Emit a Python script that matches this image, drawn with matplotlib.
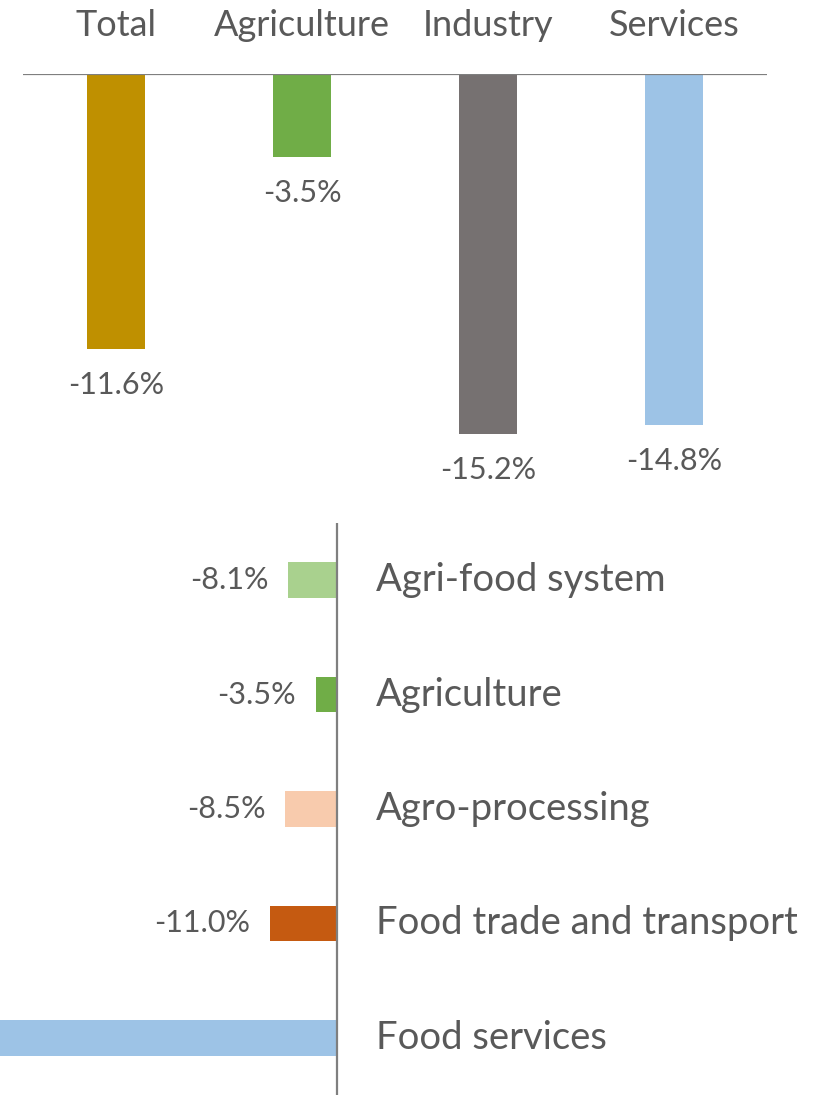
import matplotlib
matplotlib.use("Agg")
import matplotlib.pyplot as plt

# sector GDP change (top) and agri-food system breakdown (bottom), in %
sectors = ["Total", "Agriculture", "Industry", "Services"]
sector_change = [-11.6, -3.5, -15.2, -14.8]
sector_colors = ["#BF9000", "#70AD47", "#767171", "#9DC3E6"]

afs_parts = ["Agri-food system", "Agriculture", "Agro-processing",
             "Food trade and transport", "Food services"]
afs_change = [-8.1, -3.5, -8.5, -11.0, -60.0]
afs_colors = ["#A9D18E", "#70AD47", "#F8CBAD", "#C55A11", "#9DC3E6"]

plt.rcParams["font.family"] = ["Lato", "DejaVu Sans"]
text_color = "#595959"
line_color = "#7F7F7F"

W, H = 821, 1095
fig = plt.figure(figsize=(W / 100, H / 100), dpi=100)

# --- top: vertical bars hanging from the zero line
ax1 = fig.add_axes([23 / W, 1 - 500 / H, 744 / W, 426 / H])
ax1.bar(range(len(sectors)), sector_change, width=0.31, color=sector_colors)
ax1.axhline(0, color=line_color, lw=1.6)
ax1.set_xlim(-0.5, 3.5)
ax1.set_ylim(-426 / 23.7, 0)
ax1.axis("off")
for i, (name, v) in enumerate(zip(sectors, sector_change)):
    ax1.annotate(name, (i, 0), xytext=(0, 27), textcoords="offset points",
                 ha="center", va="baseline", fontsize=26, color=text_color,
                 annotation_clip=False)
    ax1.annotate(f"{v:.1f}%", (i, v), xytext=(0, -26), textcoords="offset points",
                 ha="center", va="center", fontsize=22, color=text_color,
                 annotation_clip=False)

# --- bottom: horizontal bars left of the zero line
ax2 = fig.add_axes([0, 0, 1, 572 / H])
ax2.barh(range(len(afs_parts)), afs_change, height=0.31, color=afs_colors)
ax2.axvline(0, color=line_color, lw=1.6)
xmin = -337 / 6.1
ax2.set_xlim(xmin, (W - 337) / 6.1)
ax2.set_ylim(4.5, -0.5)
ax2.axis("off")
for i, (name, v) in enumerate(zip(afs_parts, afs_change)):
    ax2.annotate(name, (0, i), xytext=(28, 0), textcoords="offset points",
                 ha="left", va="center", fontsize=27.5, color=text_color,
                 annotation_clip=False)
    # bars running past the left edge have their value label off-canvas
    if v > xmin:
        ax2.annotate(f"{v:.1f}%", (v, i), xytext=(-14, 0), textcoords="offset points",
                     ha="right", va="center", fontsize=22, color=text_color,
                     annotation_clip=False)

fig.savefig("out.png", dpi=100)
